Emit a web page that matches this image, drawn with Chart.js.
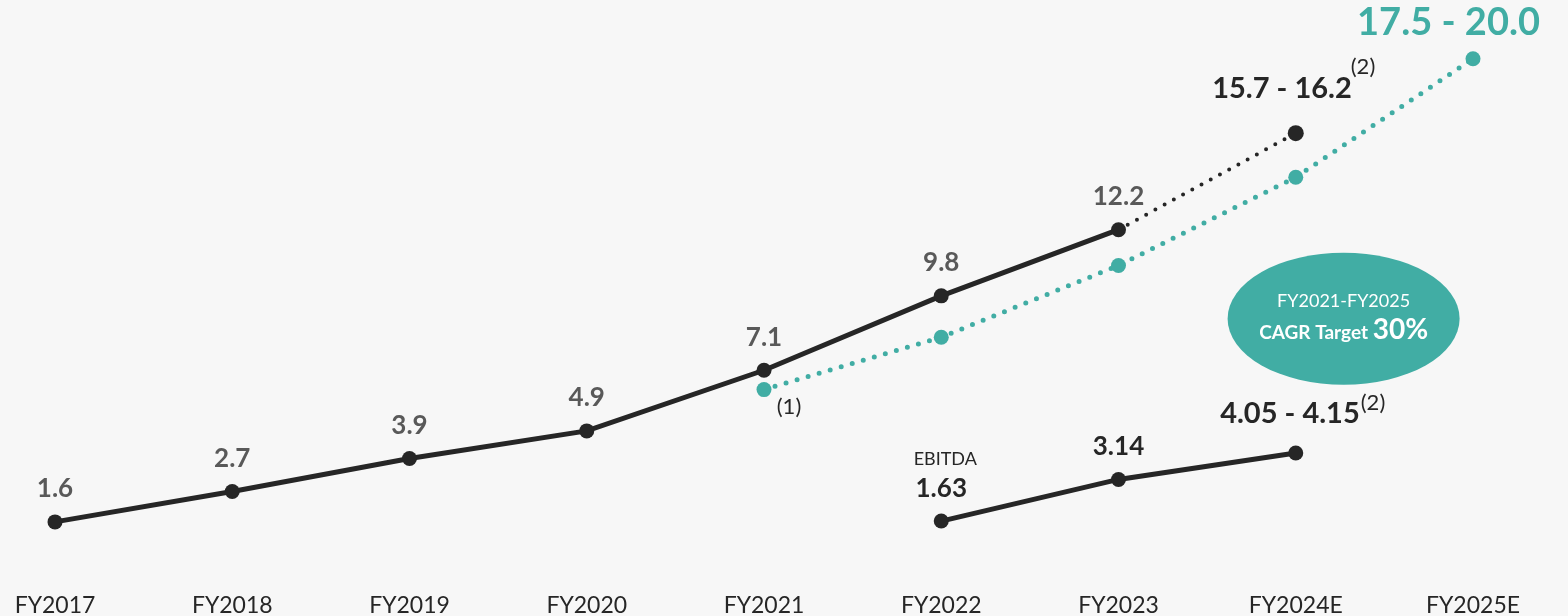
<!DOCTYPE html>
<html>
<head>
<meta charset="utf-8">
<script src="https://cdn.jsdelivr.net/npm/chart.js@4/dist/chart.umd.min.js"></script>
<style>
  html,body{margin:0;padding:0;background:#f7f7f7;}
  #wrap{width:1568px;height:616px;}
</style>
</head>
<body>
<div id="wrap"><canvas id="growth" width="1568" height="616"></canvas></div>
<script>
// ── DATA ─────────────────────────────────────────────────
const years      = ['FY2017','FY2018','FY2019','FY2020','FY2021','FY2022','FY2023','FY2024E','FY2025E'];
const revenue    = [1.6, 2.7, 3.9, 4.9, 7.1, 9.8, 12.2, null, null];
const revGuide   = [null, null, null, null, null, null, 12.2, 15.7, null];
const cagrPath   = [null, null, null, null, 6.4, 8.3, 10.9, 14.1, 18.4];
const ebitda     = [null, null, null, null, null, 1.63, 3.14, 4.1, null];

const revenueText = ['1.6','2.7','3.9','4.9','7.1','9.8','12.2'];
const ebitdaText  = ['1.63','3.14','4.05 - 4.15'];
const guideText   = '15.7 - 16.2';
const targetText  = '17.5 - 20.0';

const DARK='#262626', GREY='#595959', TEAL='#41ada4';
const FONT='Lato, "Open Sans", sans-serif';

// ── LABELS / CALLOUT ─────────────────────────────────────
const labelPlugin = {
    id:'labels',
    afterDatasetsDraw(chart){
        const ctx = chart.ctx;
        const pt = (ds,i)=>chart.getDatasetMeta(ds).data[i];
        const txt = (s,x,y,font,color,align='center')=>{
            ctx.font=font; ctx.fillStyle=color; ctx.textAlign=align; ctx.textBaseline='middle';
            ctx.fillText(s,x,y);
            return ctx.measureText(s).width;
        };
        ctx.save();
        // revenue values
        revenueText.forEach((s,i)=>{ const p=pt(0,i); txt(s,p.x,p.y-33,'bold 26px '+FONT,GREY); });
        // FY2024E revenue guidance
        let p = pt(1,7);
        txt(guideText,p.x+56,p.y-45,'bold 29px '+FONT,DARK,'right');
        txt('(2)',p.x+55,p.y-66,'22px '+FONT,DARK,'left');
        // 2025 target
        p = pt(2,8);
        txt(targetText,p.x+67,p.y-36,'bold 38px '+FONT,TEAL,'right');
        p = pt(2,4);
        txt('(1)',p.x+25,p.y+17,'22px '+FONT,DARK);
        // EBITDA
        p = pt(3,5);
        txt('EBITDA',p.x+4,p.y-62,'18px '+FONT,DARK);
        txt(ebitdaText[0],p.x,p.y-32,'bold 26px '+FONT,DARK);
        p = pt(3,6);
        txt(ebitdaText[1],p.x,p.y-33,'bold 26px '+FONT,DARK);
        p = pt(3,7);
        txt(ebitdaText[2],p.x+64,p.y-39,'bold 29px '+FONT,DARK,'right');
        txt('(2)',p.x+65,p.y-50,'22px '+FONT,DARK,'left');

        // CAGR callout ellipse
        const xs=chart.scales.x, ys=chart.scales.y;
        const cx = xs.getPixelForValue(7)+0.27*(xs.getPixelForValue(8)-xs.getPixelForValue(7));
        const cy = ys.getPixelForValue(8.97);
        ctx.beginPath();
        ctx.ellipse(cx,cy,116,66,0,0,Math.PI*2);
        ctx.fillStyle=TEAL; ctx.fill();
        txt('FY2021-FY2025',cx,cy-18,'18px '+FONT,'#ffffff');
        ctx.font='bold 19px '+FONT; const w1=ctx.measureText('CAGR Target ').width;
        ctx.font='bold 28px '+FONT; const w2=ctx.measureText('30%').width;
        const x0=cx-(w1+w2)/2;
        ctx.textBaseline='alphabetic'; ctx.textAlign='left'; ctx.fillStyle='#ffffff';
        ctx.font='bold 19px '+FONT; ctx.fillText('CAGR Target ',x0,cy+20);
        ctx.font='bold 28px '+FONT; ctx.fillText('30%',x0+w1,cy+20);
        ctx.restore();
    }
};

// ── CHART ────────────────────────────────────────────────
const pr = (arr,r)=>arr.map(v=>v==null?0:r);
new Chart(document.getElementById('growth'),{
    type:'line',
    data:{
        labels:years,
        datasets:[
            {data:revenue,borderColor:DARK,backgroundColor:DARK,borderWidth:5,pointRadius:7.5,pointBorderWidth:0,tension:0},
            {data:revGuide,borderColor:DARK,backgroundColor:DARK,borderWidth:4,borderDash:[0,10.5],borderCapStyle:'round',
             pointRadius:[0,0,0,0,0,0,0,8,0],pointBorderWidth:0,tension:0},
            {data:cagrPath,borderColor:TEAL,backgroundColor:TEAL,borderWidth:5,borderDash:[0,11.5],borderCapStyle:'round',
             pointRadius:pr(cagrPath,7.5),pointBorderWidth:0,tension:0},
            {data:ebitda,borderColor:DARK,backgroundColor:DARK,borderWidth:5,pointRadius:7.5,pointBorderWidth:0,tension:0}
        ]
    },
    options:{
        responsive:false,animation:false,
        layout:{padding:{left:55,right:95,top:0,bottom:0}},
        plugins:{legend:{display:false},tooltip:{enabled:false}},
        elements:{point:{hoverRadius:0}},
        clip:false,
        scales:{
            x:{offset:false,grid:{display:false,drawTicks:false},border:{display:false},
               ticks:{color:DARK,font:{family:FONT,size:23},padding:26,maxRotation:0,autoSkip:false},
               afterFit:s=>{s.height=50;s.paddingLeft=0;s.paddingRight=0;}},
            y:{display:false,min:0,max:20.26}
        }
    },
    plugins:[labelPlugin]
});
</script>
</body>
</html>
